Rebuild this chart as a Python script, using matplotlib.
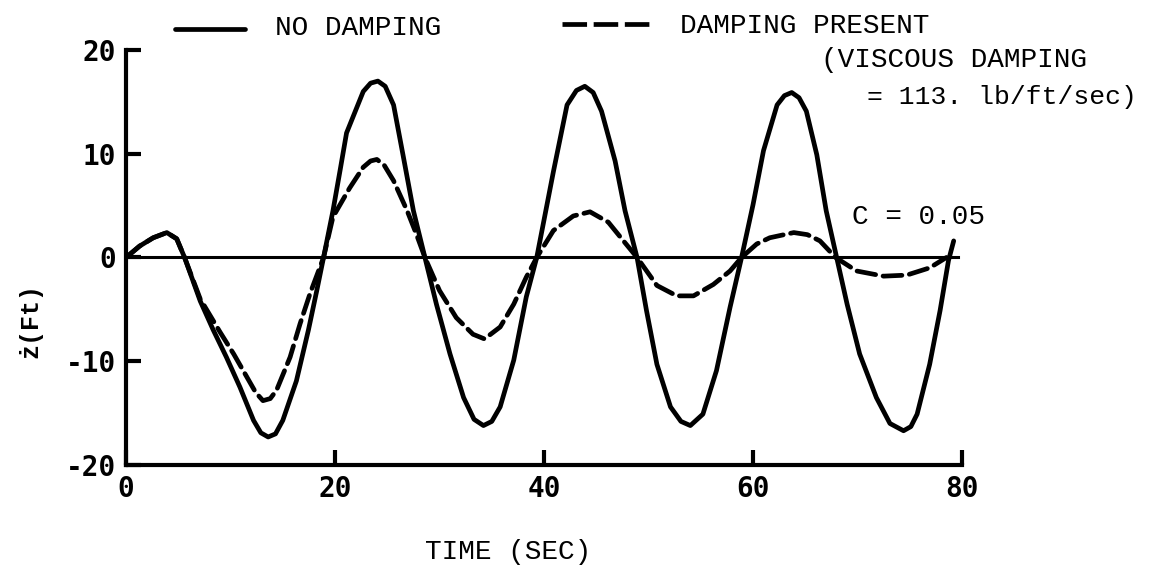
import matplotlib
matplotlib.use("Agg")
import matplotlib.pyplot as plt
from matplotlib.lines import Line2D

# Datos (tiempo en seg, velocidad en ft/s)
t_sin_amort = [0, 1.3, 2.6, 3.9, 4.85, 5.6, 7.1, 8.35, 9.6, 10.9, 12.2, 12.9, 13.6, 14.3,
               15.0, 16.3, 17.45, 18.25, 18.9, 19.8, 20.5, 21.1, 22.7, 23.4, 24.1, 24.8,
               25.6, 26.5, 27.5, 28.6, 29.7, 31.0, 32.3, 33.3, 34.2, 35.0, 35.8, 37.1,
               38.3, 39.3, 40.9, 42.2, 43.1, 43.9, 44.7, 45.5, 46.8, 47.75, 48.9, 49.8,
               50.8, 52.1, 53.1, 54.0, 55.2, 56.5, 57.8, 58.9, 60.0, 61.0, 62.3, 63.0,
               63.7, 64.4, 65.1, 66.1, 67.0, 68.0, 69.0, 70.2, 71.8, 73.1, 74.4, 75.1,
               75.7, 76.9, 77.9, 78.7, 79.2]
z_sin_amort = [0, 1.1, 1.9, 2.4, 1.8, 0, -4.2, -7.0, -9.6, -12.5, -15.7, -16.9, -17.3, -17.0,
               -15.7, -11.9, -7.0, -3.2, 0, 4.5, 8.5, 12.0, 16.0, 16.8, 17.0, 16.5,
               14.7, 9.9, 4.5, 0, -4.5, -9.3, -13.5, -15.6, -16.2, -15.8, -14.4, -9.9,
               -3.8, 0, 8.3, 14.7, 16.1, 16.5, 15.9, 14.1, 9.3, 4.5, 0, -5.1,
               -10.3, -14.4, -15.8, -16.2, -15.1, -10.9, -4.8, 0, 5.1, 10.3, 14.7, 15.6,
               15.9, 15.4, 14.1, 9.9, 4.5, 0, -4.5, -9.3, -13.5, -16.0, -16.7, -16.3,
               -15.1, -10.3, -5.1, -0.3, 1.6]

t_con_amort = [0, 1.3, 2.6, 3.9, 4.85, 5.6, 7.1, 9.0, 10.3, 11.55, 12.4, 13.1, 13.8, 14.4,
               15.7, 16.65, 17.6, 18.9, 19.8, 21.4, 22.7, 23.4, 24.0, 24.7, 25.6, 26.9,
               27.8, 28.6, 30.0, 31.6, 33.2, 34.3, 35.8, 37.1, 38.3, 39.3, 40.9, 42.8,
               44.4, 46.15, 47.6, 48.9, 50.8, 52.7, 54.3, 56.2, 57.8, 58.9, 60.35, 61.6,
               63.9, 65.2, 66.4, 67.9, 69.9, 72.5, 74.7, 76.9, 78.5]
z_con_amort = [0, 1.1, 1.9, 2.4, 1.8, 0, -4.0, -7.2, -9.3, -11.5, -13.0, -13.8, -13.6, -12.8,
               -9.6, -6.4, -3.5, 0, 3.9, 6.7, 8.7, 9.3, 9.45, 8.9, 7.4, 4.5,
               2.2, 0, -3.2, -5.8, -7.4, -7.85, -6.7, -4.5, -1.9, 0, 2.6, 4.0,
               4.4, 3.4, 1.6, 0, -2.7, -3.7, -3.7, -2.6, -1.3, 0, 1.3, 1.9,
               2.4, 2.2, 1.6, 0, -1.3, -1.8, -1.7, -1.0, 0]

ticks_x = [0, 20, 40, 60, 80]
ticks_y = [-20, -10, 0, 10, 20]

fuente = 'Liberation Mono'
plt.rcParams['axes.unicode_minus'] = False

fig = plt.figure(figsize=(11.49, 5.73), dpi=100)
ax = fig.add_axes([0.1097, 0.1885, 0.7276, 0.7243])

# Curvas
ax.plot(t_sin_amort, z_sin_amort, color='black', linewidth=3.4,
        solid_capstyle='round', solid_joinstyle='round')
ax.plot(t_con_amort, z_con_amort, color='black', linewidth=3.4,
        dashes=(4, 1.6), dash_capstyle='round')

# Linea de cero
ax.axhline(0, xmin=0, xmax=79.6 / 80, color='black', linewidth=2.2)

ax.set_xlim(0, 80)
ax.set_ylim(-20, 20)
ax.spines['top'].set_visible(False)
ax.spines['right'].set_visible(False)
ax.spines['left'].set_linewidth(3)
ax.spines['bottom'].set_linewidth(3)

ax.set_xticks(ticks_x)
ax.set_yticks(ticks_y)
ax.tick_params(direction='in', width=3, length=11, pad=7, labelsize=20)
for lab in ax.get_xticklabels() + ax.get_yticklabels():
    lab.set_fontfamily('DejaVu Sans Mono')
    lab.set_fontweight('bold')

ax.set_xlabel('TIME (SEC)', fontfamily=fuente, fontsize=20)
ax.xaxis.set_label_coords(0.457, -0.178)
ax.set_ylabel('ż(Ft)', fontfamily=fuente, fontsize=18, fontweight='bold')
ax.yaxis.set_label_coords(-0.10, 0.349)

# Leyenda dibujada a mano
fig.add_artist(Line2D([175 / 1149, 245 / 1149], [1 - 29 / 573, 1 - 29 / 573],
                      color='black', linewidth=3.4, solid_capstyle='round'))
fig.add_artist(Line2D([562 / 1149, 651 / 1149], [1 - 24 / 573, 1 - 24 / 573],
                      color='black', linewidth=3.4, dashes=(5.2, 1.4)))
fig.text(275 / 1149, 1 - 28 / 573, 'NO DAMPING', fontfamily=fuente, fontsize=20, va='center')
fig.text(680 / 1149, 1 - 26 / 573, 'DAMPING PRESENT', fontfamily=fuente, fontsize=20, va='center')
fig.text(821 / 1149, 1 - 60 / 573, '(VISCOUS DAMPING', fontfamily=fuente, fontsize=20, va='center')
fig.text(867 / 1149, 1 - 97 / 573, '= 113. lb/ft/sec)', fontfamily=fuente, fontsize=19, va='center')
fig.text(852 / 1149, 1 - 217 / 573, 'C = 0.05', fontfamily=fuente, fontsize=20, va='center')

plt.savefig('out.png', dpi=100)
plt.close()
